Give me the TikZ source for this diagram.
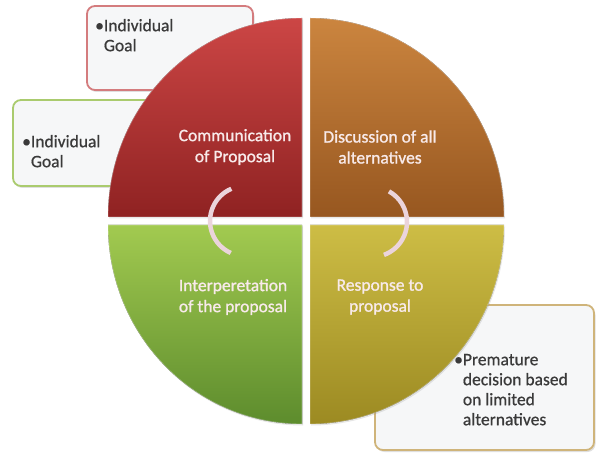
\documentclass[tikz,border=0pt]{standalone}
\usepackage{fontspec}
\setmainfont{Carlito}
\newfontfamily\labelfont{Carlito}[FakeBold=1.2]
\newfontfamily\goalfont{Carlito}[FakeBold=0.7]
\usetikzlibrary{positioning,shadows}

% quadrant colours, light and dark end of each gradient
\definecolor{commLight}{HTML}{CC4645}
\definecolor{commDark}{HTML}{8F2222}
\definecolor{discLight}{HTML}{CB853F}
\definecolor{discDark}{HTML}{975720}
\definecolor{intLight}{HTML}{A2CA50}
\definecolor{intDark}{HTML}{5D8C2D}
\definecolor{respLight}{HTML}{CDBD45}
\definecolor{respDark}{HTML}{9C8A22}
% side boxes
\definecolor{boxFill}{HTML}{F6F7F8}
\definecolor{boxRed}{HTML}{D47C7E}
\definecolor{boxGreen}{HTML}{AACB6E}
\definecolor{boxTan}{HTML}{CFB47A}
\definecolor{labelText}{HTML}{F8EAEA}
\definecolor{arcPink}{HTML}{EBD4DB}
\definecolor{goalText}{HTML}{3A3A3A}

\begin{document}
\begin{tikzpicture}[x=1pt,y=1pt,yscale=-1,
  goalbox/.style={draw, line width=1.8, fill=boxFill, rounded corners=8,
    inner sep=0, drop shadow={shadow xshift=1.5, shadow yshift=-2, opacity=0.25}},
  goaltext/.style={anchor=north west, inner sep=0, text=goalText,
    font=\goalfont\fontsize{17.5}{20}\selectfont},
  quadlabel/.style={align=center, text=labelText,
    font=\labelfont\fontsize{17.5}{21}\selectfont},
  quad/.style={draw=white, draw opacity=0.35, line width=0.8,
    drop shadow={shadow xshift=1, shadow yshift=-1.5, opacity=0.2}},
  cyclearc/.style={draw=arcPink, line width=4.5}]
\useasboundingbox (0,0) rectangle (597,454);

% boxes sitting behind the circle
\node[goalbox, draw=boxRed, minimum width=166, minimum height=84] (goalTop) at (170,48) {};
\node[goalbox, draw=boxGreen, minimum width=162, minimum height=86] (goalLeft) at (94,143) {};
\node[goalbox, draw=boxTan, minimum width=219, minimum height=145] (goalBottom) at (484.5,377.5) {};

% the four quarters
\fill[quad, top color=commLight, bottom color=commDark]
  (302,217) -- ++(-194,0) arc[start angle=180, end angle=270, x radius=194, y radius=199] -- cycle;
\fill[quad, top color=discLight, bottom color=discDark]
  (310,217) -- ++(0,-199) arc[start angle=270, end angle=360, x radius=194, y radius=199] -- cycle;
\fill[quad, top color=intLight, bottom color=intDark]
  (302,225) -- ++(0,199) arc[start angle=90, end angle=180, x radius=194, y radius=199] -- cycle;
\fill[quad, top color=respLight, bottom color=respDark]
  (310,225) -- ++(194,0) arc[start angle=0, end angle=90, x radius=194, y radius=199] -- cycle;

% turning arrows
\draw[cyclearc] (245,221) ++(114:35) arc[start angle=114, end angle=247, radius=35];
\draw[cyclearc] (372,222) ++(-61:35) arc[start angle=-61, end angle=70, radius=35];

% quarter labels
\node[quadlabel] (comm) at (235,147) {Communication\\of Proposal};
\node[quadlabel] (disc) at (380,147) {Discussion of all\\alternatives};
\node[quadlabel] (interp) at (233,297) {Interperetation\\of the proposal};
\node[quadlabel] (resp) at (380,297) {Response to\\proposal};

% box texts
\node[goaltext] (goalTopText) at (95,17) {\begin{tabular}{@{}l@{}l@{}}\textbullet&Individual\\&Goal\end{tabular}};
\node[goaltext] (goalLeftText) at (22,133) {\begin{tabular}{@{}l@{}l@{}}\textbullet&Individual\\&Goal\end{tabular}};
\node[goaltext] (goalBottomText) at (454,351) {\begin{tabular}{@{}l@{}l@{}}\textbullet&Premature\\&decision based\\&on limited\\&alternatives\end{tabular}};

\end{tikzpicture}
\end{document}
